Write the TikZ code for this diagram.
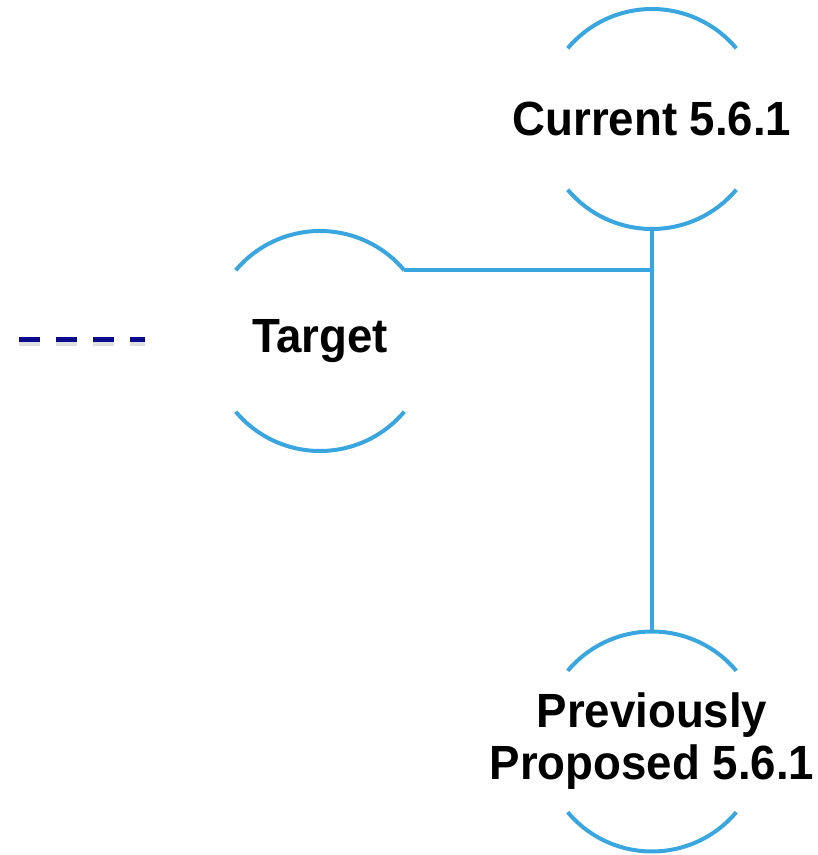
\documentclass[tikz,border=0pt]{standalone}
\usepackage{fontspec}
\setmainfont{Liberation Sans}[FakeStretch=0.95]
\definecolor{ringblue}{RGB}{58,166,224}
\definecolor{navy}{RGB}{10,10,140}
\begin{document}
\begin{tikzpicture}[x=1pt,y=1pt,
  ring/.style={draw=none,inner sep=0pt,align=center,
    font=\fontsize{48}{52}\selectfont\bfseries},
  arcline/.style={draw=ringblue,line width=4pt},
  link/.style={draw=ringblue,line width=4pt},
  legendline/.style={draw=navy,line width=5pt,dash pattern=on 21pt off 16pt}]
\useasboundingbox (0,0) rectangle (818,855);
\node[ring] (cur) at (652,736) {Current 5.6.1};
\node[ring] (tgt) at (320,514) {Target};
\node[ring] (prev) at (652,113.5) {Previously\\Proposed 5.6.1};
\foreach \n in {cur,tgt,prev}{
  \path (\n.center) ++(40:110) coordinate (\n-ne)
        (\n.center) ++(220:110) coordinate (\n-sw)
        (\n.center) ++(90:110) coordinate (\n-n)
        (\n.center) ++(-90:110) coordinate (\n-s);
  \draw[arcline] (\n-ne) arc[start angle=40,end angle=140,radius=110pt];
  \draw[arcline] (\n-sw) arc[start angle=220,end angle=320,radius=110pt];
}
\draw[link] (cur-s) -- (prev-n);
\draw[link] (tgt-ne) -- (tgt-ne -| cur-s);
\coordinate (l1) at (19,515.5);
\coordinate (l2) at (145,515.5);
\draw[legendline,draw=black!40,opacity=0.3] ([yshift=-4pt]l1) -- ([yshift=-4pt]l2);
\draw[legendline] (l1) -- (l2);
\end{tikzpicture}
\end{document}
